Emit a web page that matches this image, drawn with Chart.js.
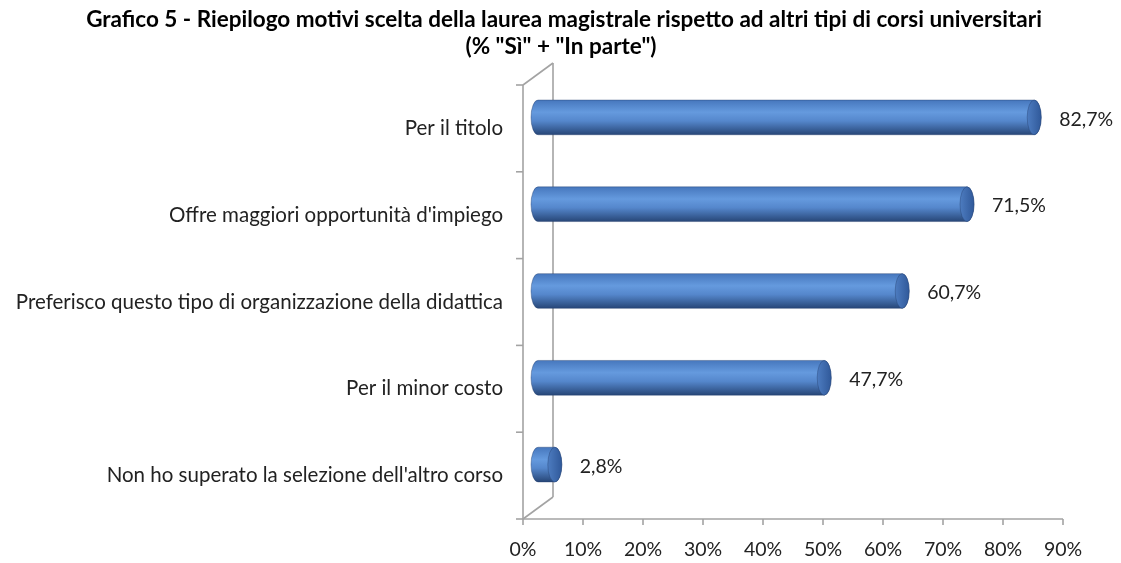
<!DOCTYPE html>
<html>
<head>
<meta charset="utf-8">
<title>Grafico 5</title>
<script src="https://cdn.jsdelivr.net/npm/chart.js@4/dist/chart.umd.min.js"></script>
<style>
    body { margin: 0; background: #fff; }
    canvas { display: block; }
</style>
</head>
<body>
<canvas id="chart" width="1121" height="563"></canvas>
<script>
// Chart data
const categories = [
    'Per il titolo',
    "Offre maggiori opportunità d'impiego",
    'Preferisco questo tipo di organizzazione della didattica',
    'Per il minor costo',
    "Non ho superato la selezione dell'altro corso"
];
const values = [82.7, 71.5, 60.7, 47.7, 2.8];
const tickValues = [0, 10, 20, 30, 40, 50, 60, 70, 80, 90];
const titleLines = [
    'Grafico 5 - Riepilogo motivi scelta della laurea magistrale rispetto ad altri tipi di corsi universitari',
    '(% "Sì" + "In parte")'
];

const FONT = "Lato, 'Open Sans', sans-serif";
const DEPTH_X = 30;   // 3D wall depth
const DEPTH_Y = -22;
const LINE_COLOR = '#a3a3a3';

function line(ctx, x1, y1, x2, y2) {
    ctx.beginPath();
    ctx.moveTo(x1, y1);
    ctx.lineTo(x2, y2);
    ctx.stroke();
}

// Title is drawn by hand so it can be centred on the whole picture
const titlePlugin = {
    id: 'customTitle',
    afterDraw(chart) {
        const ctx = chart.ctx;
        ctx.save();
        ctx.fillStyle = '#000';
        ctx.font = 'bold 22.5px ' + FONT;
        ctx.textAlign = 'center';
        ctx.textBaseline = 'middle';
        ctx.fillText(titleLines[0], 564, 20);
        ctx.fillText(titleLines[1], 561, 47);
        ctx.restore();
    }
};

// Draws the gray side wall, axis line, tick marks and the cylinders
const wallPlugin = {
    id: 'wall',
    beforeDatasetsDraw(chart) {
        const ctx = chart.ctx;
        const a = chart.chartArea;
        const xScale = chart.scales.x;
        ctx.save();
        ctx.strokeStyle = LINE_COLOR;
        ctx.lineWidth = 1.6;
        line(ctx, a.left, a.top, a.left, a.bottom);
        line(ctx, a.left + DEPTH_X, a.top + DEPTH_Y, a.left + DEPTH_X, a.bottom + DEPTH_Y);
        line(ctx, a.left, a.top, a.left + DEPTH_X, a.top + DEPTH_Y);
        line(ctx, a.left, a.bottom, a.left + DEPTH_X, a.bottom + DEPTH_Y);
        line(ctx, a.left, a.bottom, a.right, a.bottom);

        // x tick marks
        tickValues.forEach(v => {
            const x = xScale.getPixelForValue(v);
            line(ctx, x, a.bottom, x, a.bottom + 6);
        });
        // y category boundaries
        const step = (a.bottom - a.top) / categories.length;
        for (let i = 0; i <= categories.length; i++) {
            const y = a.top + step * i;
            line(ctx, a.left - 7, y, a.left, y);
        }
        ctx.restore();
    },
    afterDatasetsDraw(chart) {
        const ctx = chart.ctx;
        const meta = chart.getDatasetMeta(0);
        ctx.save();
        meta.data.forEach((bar, i) => {
            const h = bar.height;
            const ry = h / 2;
            const rx = 7;
            const cy = bar.y + DEPTH_Y / 2;
            const x0 = bar.base + DEPTH_X / 2;
            const x1 = bar.x + DEPTH_X / 2;
            const top = cy - ry;
            const bottom = cy + ry;

            // cylinder body
            const grad = ctx.createLinearGradient(0, top, 0, bottom);
            grad.addColorStop(0, '#4677bd');
            grad.addColorStop(0.35, '#659ade');
            grad.addColorStop(0.6, '#5587cc');
            grad.addColorStop(1, '#274677');
            ctx.beginPath();
            ctx.moveTo(x0, top);
            ctx.lineTo(x1, top);
            ctx.ellipse(x1, cy, rx, ry, 0, -Math.PI / 2, Math.PI / 2);
            ctx.lineTo(x0, bottom);
            ctx.ellipse(x0, cy, rx, ry, 0, Math.PI / 2, Math.PI * 1.5);
            ctx.closePath();
            ctx.fillStyle = grad;
            ctx.fill();
            ctx.strokeStyle = 'rgba(35,62,110,0.5)';
            ctx.lineWidth = 0.8;
            ctx.stroke();

            // end cap
            const capGrad = ctx.createLinearGradient(x1 - rx, 0, x1 + rx, 0);
            capGrad.addColorStop(0, '#4d7cc0');
            capGrad.addColorStop(1, '#30599a');
            ctx.beginPath();
            ctx.ellipse(x1, cy, rx, ry, 0, 0, Math.PI * 2);
            ctx.fillStyle = capGrad;
            ctx.fill();
            ctx.stroke();

            // value label
            ctx.fillStyle = '#222';
            ctx.font = '19.5px ' + FONT;
            ctx.textAlign = 'left';
            ctx.textBaseline = 'middle';
            const label = values[i].toFixed(1).replace('.', ',') + '%';
            ctx.fillText(label, x1 + rx + 18, cy + 2);
        });
        ctx.restore();
    }
};

const ctx = document.getElementById('chart').getContext('2d');
const chart = new Chart(ctx, {
    type: 'bar',
    data: {
        labels: categories,
        datasets: [{
            data: values,
            backgroundColor: 'rgba(0,0,0,0)',
            borderWidth: 0,
            barPercentage: 0.4,
            categoryPercentage: 1
        }]
    },
    options: {
        indexAxis: 'y',
        responsive: false,
        animation: false,
        devicePixelRatio: 1,
        layout: {
            padding: { left: 0, right: 58, top: 85, bottom: 0 }
        },
        plugins: {
            legend: { display: false },
            tooltip: { enabled: false },
            title: { display: false }
        },
        scales: {
            x: {
                min: 0,
                max: 90,
                afterBuildTicks: (scale) => {
                    scale.ticks = tickValues.map(v => ({ value: v }));
                },
                afterFit: (scale) => { scale.height = 44; },
                grid: { display: false, drawTicks: false },
                border: { display: false },
                ticks: {
                    padding: 19,
                    color: '#222',
                    font: { family: FONT, size: 19.5 },
                    callback: (v) => v + '%'
                }
            },
            y: {
                afterFit: (scale) => { scale.width = 523; },
                grid: { display: false, drawTicks: false },
                border: { display: false },
                ticks: {
                    padding: 20,
                    color: '#222',
                    font: { family: FONT, size: 20.5 }
                }
            }
        }
    },
    plugins: [wallPlugin, titlePlugin]
});
</script>
</body>
</html>
